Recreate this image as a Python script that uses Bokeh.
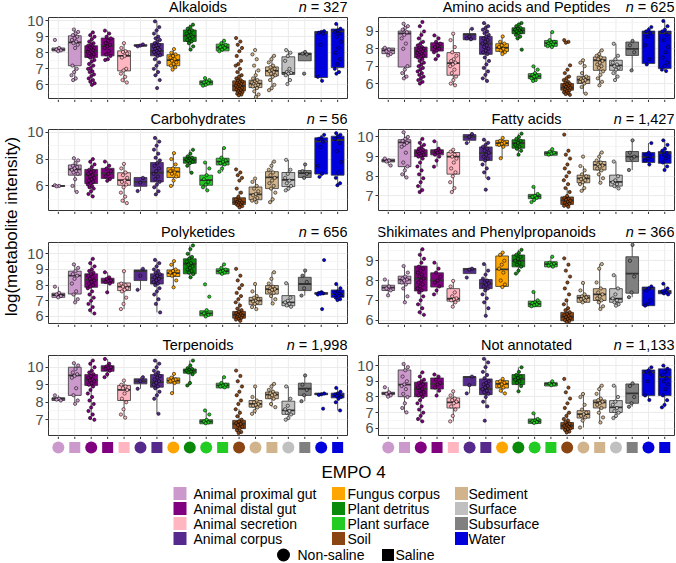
import math
from bokeh.plotting import figure
from bokeh.models import Range1d, FixedTicker, Label
from bokeh.layouts import row, column
from bokeh.embed import file_html
from bokeh.resources import INLINE

FONT = "Liberation Sans"

# ---------------- data ----------------
EMPO4 = ["Animal proximal gut", "Animal distal gut", "Animal secretion", "Animal corpus",
         "Fungus corpus", "Plant detritus", "Plant surface", "Soil",
         "Sediment", "Surface", "Subsurface", "Water"]

GROUP_EMPO = ["Animal proximal gut", "Animal proximal gut", "Animal distal gut", "Animal distal gut",
              "Animal secretion", "Animal corpus", "Animal corpus", "Fungus corpus", "Plant detritus",
              "Plant surface", "Plant surface", "Soil", "Sediment", "Sediment", "Surface",
              "Subsurface", "Water", "Water"]
GROUP_SALINITY = ["Non-saline", "Saline", "Non-saline", "Saline", "Saline", "Non-saline", "Saline",
                  "Non-saline", "Non-saline", "Non-saline", "Saline", "Non-saline", "Non-saline",
                  "Saline", "Non-saline", "Saline", "Non-saline", "Saline"]

TITLES = ["Alkaloids", "Amino acids and Peptides", "Carbohydrates", "Fatty acids",
          "Polyketides", "Shikimates and Phenylpropanoids", "Terpenoids", "Not annotated"]
N_COUNTS = ["327", "625", "56", "1,427", "656", "366", "1,998", "1,133"]

Y_TICKS = [[6, 7, 8, 9, 10], [6, 7, 8, 9], [6, 8, 10], [7, 8, 9, 10],
           [6, 7, 8, 9, 10], [6, 7, 8, 9], [7, 8, 9, 10], [6, 7, 8, 9, 10]]

# box stats per group: "lower-whisker q1 median q3 upper-whisker"
ALKALOIDS_BOX = ["8.08 8.12 8.2 8.3 8.35", "6.25 7.19 8.65 9.06 9.45", "6.0 7.71 8.12 8.44 9.27",
                 "7.54 7.81 8.44 8.92 9.38", "6.15 6.87 7.81 8.12 8.6", "8.4 8.42 8.45 8.5 8.52",
                 "6.6 7.81 8.12 8.58 9.96", "6.92 7.19 7.54 7.88 8.23", "8.17 8.71 9.06 9.42 9.75",
                 "5.94 6.0 6.15 6.25 6.42", "8.06 8.12 8.33 8.54 8.75", "5.35 5.62 5.94 6.25 6.9",
                 "5.3 5.83 6.08 6.29 6.9", "5.67 6.56 6.87 7.12 7.81", "6.04 6.65 6.75 7.75 8.17",
                 "7.5 7.5 7.92 7.98 8.05", "6.25 6.46 9.25 9.33 9.35", "6.7 7.08 9.33 9.48 9.8"]
ALKALOIDS_PTS = ["8.8 8.3 8.2 8.15 8.1",
                 "9.45 9.3 9.2 9.1 9.0 8.9 8.8 8.7 8.6 8.5 8.3 7.2 7.0 6.8 6.6 6.4 6.3",
                 "9.27 9.1 9.0 8.85 8.7 8.6 8.5 8.45 8.4 8.33 8.3 8.22 8.2 8.15 8.1 8.05 8.0 7.95 7.9 7.82 7.8 7.74 7.7 7.55 7.45 7.3 7.2 7.05 7.0 6.85 6.8 6.65 6.55 6.4 6.3 6.2 6.1 6.0",
                 "9.38 9.2 9.0 8.9 8.75 8.6 8.5 8.4 8.3 8.1 7.9 7.8 7.6 7.55",
                 "8.6 8.3 8.1 8.05 7.95 7.8 7.7 7.0 6.9 6.7 6.5 6.3 6.15",
                 "8.52 8.45 8.4",
                 "9.96 9.6 9.4 9.2 9.0 8.9 8.8 8.7 8.6 8.5 8.45 8.4 8.3 8.25 8.2 8.1 8.05 8.0 7.9 7.85 7.8 7.6 7.4 7.2 7.0 6.8 6.6 6.3 5.8",
                 "8.23 8.0 7.9 7.8 7.7 7.6 7.5 7.4 7.3 7.2 7.1 6.95",
                 "9.75 9.6 9.5 9.4 9.3 9.2 9.1 9.05 9.0 8.9 8.8 8.7 8.6 8.4 8.2",
                 "6.42 6.3 6.2 6.15 6.1 6.0 5.95",
                 "8.75 8.6 8.5 8.4 8.35 8.3 8.2 8.1",
                 "8.92 8.7 8.5 8.3 8.1 7.8 7.5 7.3 7.2 7.0 6.8 6.6 6.5 6.4 6.3 6.25 6.2 6.15 6.1 6.05 6.0 5.95 5.9 5.85 5.8 5.75 5.7 5.65 5.6 5.55 5.5 5.45 5.4 5.35",
                 "8.17 7.9 7.6 7.2 6.9 6.6 6.4 6.3 6.2 6.15 6.1 6.05 6.0 5.95 5.9 5.8 5.6 5.4 5.25",
                 "7.81 7.6 7.4 7.2 7.1 7.0 6.9 6.85 6.8 6.7 6.6 6.5 6.3 6.0 5.8 5.67",
                 "8.17 8.0 7.8 7.5 7.0 6.8 6.75 6.7 6.6 6.3 6.05",
                 "8.05 7.95 7.9 6.7",
                 "9.35 9.3 9.25 9.2 8.5 6.5 6.25",
                 "9.8 9.5 9.4 9.3 9.2 9.0 8.7 8.3 8.0 7.6 7.3 7.0 6.8 6.7"]

AMINO_BOX = ["7.62 7.72 7.91 8.04 8.06", "6.28 6.95 8.88 9.02 9.44", "6.0 7.49 7.87 8.1 9.0",
             "7.37 7.87 8.1 8.35 8.77", "5.9 6.48 7.18 7.78 8.87", "8.5 8.52 8.83 8.87 9.15",
             "6.15 7.68 8.3 8.71 9.48", "7.68 7.85 8.06 8.29 8.71", "8.5 8.87 9.06 9.21 9.48",
             "6.15 6.28 6.42 6.57 6.99", "8.1 8.14 8.33 8.48 8.96", "5.33 5.62 5.77 6.0 6.5",
             "5.42 6.0 6.23 6.42 7.34", "5.85 6.76 7.34 7.53 7.91", "6.19 6.76 7.05 7.34 8.29",
             "6.76 7.62 8.0 8.39 8.45", "7.1 7.15 8.9 9.02 9.25", "6.72 6.86 8.9 9.02 9.6"]
AMINO_PTS = ["8.06 7.95 7.85 7.7 7.62",
             "9.44 9.3 9.2 9.1 8.95 8.8 8.6 8.3 8.0 7.0 6.8 6.6 6.4 6.3",
             "9.54 9.3 9.0 8.8 8.6 8.4 8.3 8.2 8.1 8.05 8.0 7.95 7.9 7.85 7.8 7.75 7.7 7.65 7.6 7.55 7.5 7.4 7.3 7.2 7.1 7.0 6.9 6.8 6.7 6.6 6.5 6.4 6.3 6.2 6.1 6.0",
             "8.77 8.6 8.4 8.3 8.2 8.1 8.0 7.9 7.8 7.6 7.4",
             "8.87 8.5 8.1 7.8 7.6 7.4 7.3 7.2 7.1 7.0 6.8 6.6 6.4 6.2 6.0 5.9",
             "9.15 8.7 8.6 8.55",
             "9.48 9.3 9.2 9.1 9.0 8.9 8.8 8.7 8.6 8.5 8.4 8.3 8.2 8.1 8.0 7.9 7.8 7.7 7.5 7.3 7.1 6.9 6.7 6.5 6.3 6.15",
             "8.71 8.4 8.3 8.2 8.1 8.0 7.9 7.8 7.7",
             "9.48 9.4 9.3 9.2 9.15 9.1 9.05 9.0 8.95 8.9 8.8 8.7 8.6 7.95",
             "6.99 6.8 6.6 6.5 6.45 6.4 6.3 6.2 6.15",
             "8.96 8.5 8.4 8.35 8.3 8.25 8.2 8.15 8.1",
             "8.5 8.4 8.35 7.05 6.8 6.6 6.4 6.3 6.2 6.1 6.05 6.0 5.95 5.9 5.85 5.8 5.75 5.7 5.65 5.6 5.55 5.5 5.45 5.4 5.35",
             "7.34 7.2 7.0 6.6 6.4 6.3 6.25 6.2 6.15 6.1 6.0 5.8 5.42",
             "7.91 7.7 7.6 7.5 7.4 7.3 7.2 7.1 7.0 6.9 6.7 6.5 6.3 6.1 5.9",
             "8.29 7.6 7.4 7.2 7.1 7.0 6.9 6.8 6.6 6.4 6.2",
             "8.45 8.2 7.8 6.76",
             "9.25 9.1 9.0 8.9 8.7 8.2 7.4 7.1",
             "9.6 9.3 9.1 9.0 8.8 8.5 8.1 7.8 7.5 7.2 7.0 6.8 6.72"]

CARBO_BOX = ["5.95 5.97 6.0 6.02 6.05", "5.55 6.8 7.23 7.56 8.06", "5.22 6.18 6.8 7.23 8.0",
             "6.38 6.55 6.93 7.31 7.81", "4.72 6.05 6.43 6.98 7.64", "5.62 5.97 6.3 6.63 6.65",
             "5.37 6.3 6.98 7.74 9.57", "5.97 6.63 7.06 7.36 8.44", "6.98 7.69 7.94 8.14 8.69",
             "5.67 6.05 6.43 6.8 7.74", "7.06 7.56 7.81 8.06 8.82", "4.36 4.62 4.79 5.12 5.6",
             "4.79 4.97 5.37 5.92 6.55", "4.79 5.8 6.63 7.06 7.81", "5.67 5.95 6.45 7.0 7.94",
             "6.56 6.63 6.95 7.15 7.6", "6.68 6.88 9.32 9.58 9.8", "6.05 6.8 9.42 9.7 9.93"]
CARBO_PTS = ["6.05 6.0 5.97",
             "8.06 7.9 7.7 7.5 7.4 7.3 7.2 7.1 7.0 6.9 6.5 6.0 5.55",
             "8.0 7.8 7.6 7.4 7.2 7.1 7.0 6.9 6.8 6.7 6.6 6.5 6.4 6.3 6.2 6.1 6.0 5.9 5.8 5.6 5.4 5.22",
             "7.81 7.5 7.3 7.1 6.9 6.7 6.5 6.38",
             "7.64 7.3 7.0 6.8 6.6 6.4 6.3 6.1 5.9 5.5 5.2 4.9 4.72",
             "6.6 6.25 5.62",
             "9.57 9.3 9.0 8.7 8.4 8.1 7.9 7.7 7.5 7.3 7.1 6.9 6.7 6.5 6.3 6.1 5.9 5.6 5.37",
             "8.44 8.0 7.6 7.3 7.1 7.0 6.9 6.7 6.4 6.0",
             "8.69 8.4 8.2 8.1 8.0 7.95 7.9 7.85 7.8 7.7 7.5 6.98",
             "7.74 7.3 6.8 6.5 6.3 6.1 5.9 5.67",
             "8.82 8.1 7.9 7.8 7.7 7.6 7.3 7.06",
             "7.23 7.0 6.8 6.6 6.4 5.8 5.5 5.2 5.0 4.9 4.8 4.75 4.7 4.65 4.6 4.55 4.5 4.4",
             "6.55 6.3 6.0 5.8 5.6 5.4 5.3 5.1 5.0 4.9 4.79",
             "7.81 7.5 7.2 7.0 6.8 6.6 6.4 6.2 6.0 5.8 5.5 5.0 4.79",
             "7.94 7.2 6.9 6.6 6.4 6.2 6.0 5.8 5.67",
             "7.6 7.1 6.9 6.6",
             "9.8 9.6 9.5 9.3 8.9 7.5 6.9 6.68",
             "9.93 9.8 9.7 9.5 9.2 8.6 7.8 7.0 6.6 6.2 6.05"]

FATTY_BOX = ["8.55 8.73 8.8 8.87 8.9", "7.94 8.49 9.73 9.86 10.24", "7.2 9.0 9.18 9.35 9.9",
             "8.49 9.09 9.23 9.35 9.78", "7.2 8.11 9.0 9.21 9.35", "9.69 9.83 10.0 10.12 10.15",
             "7.9 8.8 9.18 9.49 9.86", "8.92 9.55 9.69 9.83 9.95", "9.09 9.43 9.69 9.86 10.17",
             "6.69 6.86 6.98 7.08 7.46", "9.05 9.07 9.18 9.25 9.38", "6.43 6.57 6.78 6.95 7.4",
             "7.26 7.67 7.89 8.06 8.52", "7.67 8.32 8.58 8.75 9.21", "7.38 7.5 7.72 8.06 8.75",
             "8.32 8.75 9.0 9.26 9.83", "8.58 8.7 8.97 9.21 9.69", "8.32 8.66 9.18 9.26 9.83"]
FATTY_PTS = ["8.9 8.8 8.75 8.55",
             "10.24 10.0 9.9 9.8 9.7 9.6 9.5 9.2 8.7 8.5 8.3 8.1 7.94",
             "9.9 9.7 9.6 9.5 9.4 9.35 9.3 9.25 9.2 9.15 9.1 9.05 9.0 8.9 8.7 8.5 8.3 8.1 7.9 7.7 7.5 7.3 7.2",
             "9.78 9.4 9.3 9.25 9.2 9.1 9.0 8.8 8.49",
             "9.35 9.25 9.1 9.0 8.9 8.7 8.4 8.2 8.0 7.7 7.4 7.2",
             "10.15 10.0 9.69",
             "9.86 9.7 9.6 9.5 9.4 9.3 9.2 9.1 9.0 8.9 8.8 8.6 8.4 8.2 7.9 7.32",
             "9.95 9.8 9.7 9.65 9.6 9.5 8.92",
             "10.17 10.0 9.9 9.8 9.7 9.6 9.5 9.4 9.3 9.1",
             "7.46 7.1 7.0 6.95 6.9 6.8 6.69",
             "9.38 9.25 9.2 9.15 9.1",
             "10.12 9.3 9.1 8.9 8.6 8.4 8.2 8.0 7.8 7.6 7.4 7.2 7.0 6.9 6.85 6.8 6.75 6.7 6.65 6.6 6.55 6.5 6.45",
             "9.0 8.52 8.3 8.1 8.0 7.9 7.85 7.8 7.7 7.6 7.4 7.26",
             "9.21 9.0 8.8 8.7 8.6 8.55 8.5 8.4 8.3 8.1 7.9 7.67",
             "8.75 8.0 7.8 7.7 7.6 7.5 7.38",
             "9.83 9.2 9.0 8.9 8.32",
             "9.69 9.2 9.1 9.0 8.9 8.8 8.6",
             "9.83 9.6 9.4 9.3 9.2 9.1 9.0 8.9 8.7 8.5 8.32"]

POLY_BOX = ["7.22 7.22 7.37 7.48 7.9", "6.9 7.43 8.61 8.89 9.32", "6.19 7.86 8.33 8.72 9.68",
            "7.54 8.12 8.29 8.44 8.82", "6.47 7.65 7.9 8.14 8.89", "7.7 8.29 8.89 8.97 9.04",
            "6.26 8.07 8.46 8.72 9.61", "7.86 8.55 8.76 8.97 9.53", "8.5 8.72 9.36 9.68 10.53",
            "6.0 6.04 6.19 6.36 6.4", "8.72 8.72 8.89 9.04 9.32", "5.72 5.89 6.11 6.32 6.9",
            "6.47 6.75 7.01 7.22 8.07", "6.83 7.43 7.75 7.97 8.82", "6.62 6.68 6.9 7.33 8.12",
            "7.33 7.65 8.07 8.5 8.93", "7.4 7.42 7.47 7.52 7.55", "7.05 7.22 7.43 7.69 8.07"]
POLY_PTS = ["7.9 7.5 7.4 7.3 7.22",
            "9.32 9.1 8.9 8.7 8.6 8.4 8.1 7.6 7.4 7.1 6.9",
            "9.68 9.4 9.2 9.0 8.9 8.8 8.7 8.6 8.5 8.4 8.3 8.2 8.1 8.0 7.9 7.8 7.6 7.4 7.2 7.0 6.8 6.6 6.4 6.19",
            "8.82 8.5 8.4 8.3 8.25 8.2 8.1 7.54",
            "8.89 8.1 8.0 7.9 7.8 7.7 7.6 7.2 6.8 6.47",
            "9.04 8.6 7.7",
            "9.61 9.4 9.2 9.0 8.9 8.8 8.7 8.6 8.5 8.4 8.3 8.2 8.1 8.0 7.8 7.6 7.4 7.1 6.8 6.26",
            "9.53 9.3 9.0 8.9 8.8 8.7 8.6 8.3 7.86",
            "10.53 10.3 10.0 9.8 9.7 9.5 9.4 9.3 9.2 9.1 9.0 8.9 8.8 8.7 8.5",
            "8.05 7.26 6.4 6.2 6.1 6.0",
            "9.32 9.1 9.0 8.9 8.85 8.8 8.72",
            "9.04 8.6 8.3 8.0 7.8 7.5 7.3 7.1 6.9 6.7 6.5 6.4 6.3 6.2 6.15 6.1 6.05 6.0 5.95 5.9 5.85 5.8 5.72",
            "8.07 7.6 7.3 7.2 7.1 7.0 6.95 6.9 6.8 6.6 6.47",
            "8.82 8.4 8.1 7.9 7.8 7.75 7.7 7.6 7.5 7.3 7.1 6.83",
            "8.12 7.2 7.0 6.9 6.8 6.7 6.62",
            "8.93 8.6 8.2 7.8 7.33",
            "9.6 7.55 7.5 7.47 7.45 7.4 6.47",
            "8.07 7.8 7.6 7.5 7.45 7.4 7.35 7.3 7.2 7.1 7.05"]

SHIKI_BOX = ["7.25 7.5 7.64 7.76 8.05", "6.9 7.84 8.05 8.22 8.73", "6.27 7.47 8.1 8.73 9.58",
             "7.3 7.67 8.01 8.39 8.9", "6.68 6.96 7.08 7.59 7.98", "8.35 8.35 8.56 8.61 8.61",
             "6.22 7.59 7.84 8.05 8.83", "7.67 7.7 8.56 9.24 9.41", "8.35 8.69 9.0 9.29 9.55",
             "6.68 6.68 6.82 6.96 7.42", "8.69 8.69 8.83 8.95 9.2", "5.88 5.97 6.17 6.39 7.0",
             "6.9 6.9 7.13 7.25 7.88", "6.56 6.99 7.3 7.59 8.83", "6.73 6.9 7.08 7.59 8.27",
             "7.16 7.36 8.35 9.2 9.8", "6.73 6.73 7.59 7.67 7.7", "7.33 7.33 7.42 7.5 7.84"]
SHIKI_PTS = ["8.05 7.7 7.6 7.5 7.25",
             "8.73 8.4 8.2 8.1 8.05 8.0 7.9 7.8 7.6 7.2 6.9",
             "9.58 9.3 9.1 8.9 8.7 8.6 8.5 8.4 8.3 8.2 8.1 8.0 7.9 7.8 7.7 7.6 7.5 7.4 7.2 7.0 6.8 6.6 6.4 6.27",
             "8.9 8.6 8.4 8.2 8.0 7.9 7.7 7.5 7.3",
             "7.98 7.7 7.4 7.2 7.1 7.05 7.0 6.9 6.68",
             "8.6 8.55 8.15",
             "8.83 8.5 8.3 8.1 8.0 7.9 7.85 7.8 7.7 7.6 7.5 7.3 7.1 6.9 6.6 6.22",
             "9.41 9.3 9.0 8.8 8.6 8.4 8.0 7.8 7.67",
             "9.55 9.4 9.3 9.2 9.1 9.0 8.9 8.8 8.7 8.5 8.35",
             "7.42 7.0 6.9 6.85 6.8 6.75 6.7",
             "9.2 8.9 8.85 8.8 8.75 8.7",
             "9.12 8.8 8.5 8.2 7.9 7.6 7.3 7.0 6.8 6.6 6.5 6.4 6.3 6.25 6.2 6.15 6.1 6.05 6.0 5.95 5.9",
             "7.88 7.5 7.3 7.2 7.15 7.1 7.05 7.0 6.9",
             "8.83 8.6 7.9 7.6 7.4 7.3 7.2 7.1 7.0 6.9 6.7 6.56",
             "8.27 7.6 7.3 7.1 7.0 6.9 6.8 6.73",
             "9.8 9.0 8.2 7.4 7.16",
             "7.7 7.6 7.5 7.0 6.8 6.73",
             "7.84 7.6 7.5 7.45 7.4 7.35 7.3"]

TERP_BOX = ["8.1 8.1 8.2 8.25 8.39", "7.91 8.39 9.53 10.0 10.23", "7.0 8.96 9.28 9.58 10.38",
            "9.43 9.77 9.96 10.09 10.47", "7.12 8.1 8.71 8.96 9.24", "8.77 9.05 9.2 9.34 9.43",
            "7.34 8.86 9.15 9.58 10.38", "8.52 9.09 9.24 9.39 9.62", "8.96 9.66 9.81 9.9 10.38",
            "6.77 6.77 6.9 7.0 7.53", "8.82 8.82 8.96 9.09 9.43", "6.24 6.49 6.77 6.96 7.6",
            "7.34 7.72 7.91 8.1 8.9", "7.72 8.2 8.44 8.58 9.05", "7.0 7.31 7.53 8.06 8.9",
            "8.06 8.39 8.77 9.09 9.53", "8.4 8.43 8.46 8.52 8.55", "7.53 8.25 8.39 8.52 8.82"]
TERP_PTS = ["8.39 8.2 8.15 8.1",
            "10.23 10.1 9.9 9.7 9.6 9.5 9.4 8.8 8.4 8.1 7.91",
            "10.38 10.2 10.0 9.8 9.7 9.6 9.5 9.4 9.3 9.25 9.2 9.1 9.0 8.9 8.7 8.5 8.3 8.1 7.9 7.7 7.5 7.3 7.1 7.0",
            "10.47 10.2 10.05 10.0 9.95 9.9 9.8 9.6 9.43",
            "9.24 9.0 8.9 8.8 8.7 8.5 8.2 8.0 7.6 7.3 7.12",
            "9.43 9.2 8.77",
            "10.38 10.2 10.0 9.8 9.7 9.6 9.5 9.4 9.3 9.2 9.1 9.0 8.9 8.8 8.6 8.4 8.2 7.34",
            "9.62 9.4 9.3 9.25 9.2 9.1 8.52",
            "10.38 10.1 9.95 9.9 9.85 9.8 9.75 9.7 9.6 9.1 8.96",
            "7.53 7.3 7.0 6.9 6.85 6.8",
            "9.43 9.1 9.0 8.95 8.9 8.85",
            "9.81 9.5 9.2 8.9 8.6 8.4 8.1 7.9 7.6 7.4 7.2 7.0 6.9 6.8 6.75 6.7 6.6 6.5 6.4 6.3 6.24",
            "8.9 8.3 8.1 8.0 7.9 7.85 7.8 7.7 7.5 7.34",
            "9.05 8.9 8.7 8.6 8.5 8.45 8.4 8.3 8.2 7.9 7.72",
            "8.9 8.2 7.8 7.6 7.5 7.4 7.3 7.1 7.0",
            "9.53 9.0 8.7 8.4 8.06",
            "8.5 8.45 8.42 7.63",
            "8.82 8.6 8.5 8.45 8.4 8.35 8.3 8.2 8.0 7.53"]

NOTANN_BOX = ["8.02 8.15 8.23 8.3 8.62", "7.02 8.02 8.79 9.72 10.1", "6.45 8.02 8.51 8.94 9.57",
              "8.09 8.51 8.83 9.21 9.43", "6.45 7.3 7.66 7.94 8.36", "8.23 8.72 9.26 9.3 9.32",
              "7.3 8.15 8.51 9.15 10.43", "8.23 8.57 8.83 9.04 9.15", "8.36 8.79 9.15 9.43 9.89",
              "6.32 6.32 6.45 6.6 6.96", "8.7 8.7 8.83 8.91 9.0", "5.74 5.96 6.17 6.38 7.0",
              "6.06 6.66 6.91 7.13 8.19", "6.38 7.3 7.66 7.81 8.72", "6.66 7.02 7.34 7.77 8.72",
              "7.38 7.6 8.23 8.83 8.87", "7.81 8.09 9.57 9.72 9.89", "7.34 8.09 9.26 9.79 10.0"]
NOTANN_PTS = ["8.62 8.3 8.2 8.1 8.02",
              "10.1 9.9 9.7 9.3 9.0 8.8 8.7 8.5 8.2 8.0 7.6 7.3 7.02",
              "9.57 9.3 9.1 9.0 8.9 8.8 8.7 8.6 8.5 8.4 8.3 8.2 8.1 8.0 7.8 7.6 7.4 7.2 7.0 6.8 6.6 6.45",
              "9.43 9.3 9.1 8.9 8.8 8.6 8.4 8.09",
              "8.36 8.1 7.9 7.8 7.7 7.6 7.4 7.2 6.8 6.45",
              "9.3 8.75 8.23",
              "10.43 10.2 9.9 9.6 9.4 9.2 9.0 8.9 8.8 8.7 8.6 8.5 8.4 8.3 8.2 8.0 7.7 7.4 6.49",
              "9.15 9.0 8.9 8.8 8.7 8.6 8.4 8.23",
              "9.89 9.6 9.4 9.3 9.2 9.1 9.0 8.9 8.7 8.36",
              "6.96 6.6 6.5 6.45 6.4 6.35",
              "9.0 8.85 8.8 8.75",
              "9.15 8.6 8.3 7.9 7.6 7.3 7.0 6.8 6.6 6.5 6.4 6.3 6.2 6.15 6.1 6.05 6.0 5.95 5.9 5.8 5.74",
              "8.19 8.0 7.5 7.2 7.0 6.9 6.8 6.7 6.5 6.06",
              "8.72 8.5 8.2 7.9 7.8 7.7 7.6 7.5 7.3 7.0 6.7 6.38",
              "8.72 8.0 7.7 7.5 7.3 7.1 7.0 6.8 6.66",
              "8.87 8.7 8.0 7.6 7.38",
              "9.89 9.7 9.6 9.5 9.0 8.1 7.81",
              "10.0 9.8 9.6 9.4 9.2 9.0 8.8 8.5 8.1 7.8 7.5 7.34"]

BOXES = [ALKALOIDS_BOX, AMINO_BOX, CARBO_BOX, FATTY_BOX, POLY_BOX, SHIKI_BOX, TERP_BOX, NOTANN_BOX]
POINTS = [ALKALOIDS_PTS, AMINO_PTS, CARBO_PTS, FATTY_PTS, POLY_PTS, SHIKI_PTS, TERP_PTS, NOTANN_PTS]

# ---------------- style / layout ----------------
COLORS = {"Animal proximal gut": "#CC99CC", "Animal distal gut": "#800080",
          "Animal secretion": "#FFB6C1", "Animal corpus": "#552A8C",
          "Fungus corpus": "#FFA500", "Plant detritus": "#0A8A0A",
          "Plant surface": "#22CC22", "Soil": "#8B4513",
          "Sediment": "#D2B48C", "Surface": "#C0C0C0",
          "Subsurface": "#808080", "Water": "#0000DD"}
MARKER = {"Non-saline": "circle", "Saline": "square"}

Y_LIMITS = [(5.15, 10.2), (5.14, 9.8), (4.17, 10.2), (6.26, 10.38),
            (5.55, 10.72), (5.83, 9.92), (6.1, 10.67), (5.55, 10.64)]
FRAME_H = [81, 81, 81, 80]
HEADER_H = [14, 27, 28, 28]   # visible header band (prev frame bottom+1 .. frame top-3)
FOOTER_H = 21
PAD = 9                        # panel canvas padding above/below the frame
GAP_TOP, GAP_BOTTOM = 3, 1     # distance from header end to frame top / frame bottom to next header
COL_GEOM = [(328, 23, 5), (324, 26, 2)]  # width, left border, right border
TXT = "#4D4D4D"
LINE = "#333333"
TITLE_SIZE = 14.5


def parse(s):
    return [float(v) for v in s.split()]


def text_width(s, size):
    w = {" ": .278, "=": .584, ",": .278, "A": .667, "S": .667, "P": .667, "C": .722, "F": .611,
         "T": .611, "N": .722, "i": .222, "l": .222, "j": .222, "t": .278, "f": .278, "r": .333,
         "m": .833, "s": .5, "c": .5, "k": .5, "y": .5, "z": .5, "x": .5, "v": .5}
    return sum(w.get(ch, .556) for ch in s) * size


def blank_fig(w, h, bl, br, xr, yr, margin=None):
    kw = {} if margin is None else {"margin": margin}
    p = figure(width=w, height=h, x_range=xr, y_range=yr, output_backend="svg",
               toolbar_location=None, tools="", min_border_left=bl, min_border_right=br,
               min_border_top=0, min_border_bottom=0, x_axis_location=None, y_axis_location=None,
               **kw)
    p.outline_line_color = None
    p.grid.visible = False
    p.background_fill_color = None
    p.border_fill_color = None
    return p


def add_ticks(p):
    ks = list(range(1, 19))
    p.segment(x0=ks, y0=[0] * 18, x1=ks, y1=[2.5] * 18, line_color=LINE, line_width=1)


def make_header(r, c):
    idx = 2 * r + c
    w, bl, br = COL_GEOM[c]
    h = HEADER_H[r]
    margin = None if r == 0 else (-(PAD - GAP_BOTTOM), 0, 0, 0)
    p = blank_fig(w, h, bl, br, Range1d(0.4, 18.6), Range1d(h, 0), margin)
    if r > 0:
        add_ticks(p)
    mid = h - 7.5
    title = TITLES[idx]
    rest = "= " + N_COUNTS[idx]
    n_w = text_width(rest, TITLE_SIZE) + text_width(" n", TITLE_SIZE)
    frame_w = w - bl - br
    t_w = text_width(title, TITLE_SIZE)
    common = dict(y=mid, text_baseline="middle", text_font=FONT,
                  text_font_size=f"{TITLE_SIZE}px", text_color="black")
    if frame_w / 2 + t_w / 2 > frame_w - n_w - 4:
        p.add_layout(Label(x=0.4, text=title, text_align="left", x_offset=-2, **common))
    else:
        p.add_layout(Label(x=9.5, text=title, text_align="center", **common))
    p.add_layout(Label(x=18.6, text=rest, text_align="right", **common))
    p.add_layout(Label(x=18.6, text="n", text_align="right", text_font_style="italic",
                       x_offset=-(text_width(rest, TITLE_SIZE) + 0.278 * TITLE_SIZE), **common))
    return p


def make_panel(idx):
    r, c = divmod(idx, 2)
    w, bl, br = COL_GEOM[c]
    lo, hi = Y_LIMITS[idx]
    p = figure(width=w, height=FRAME_H[r] + 2 * PAD,
               x_range=Range1d(0.4, 18.6), y_range=Range1d(lo, hi),
               output_backend="svg", toolbar_location=None, tools="",
               min_border_left=bl, min_border_right=br, min_border_top=PAD,
               min_border_bottom=PAD, x_axis_location=None,
               margin=(-(PAD - GAP_TOP), 0, 0, 0))
    p.outline_line_color = LINE
    p.outline_line_width = 1
    p.background_fill_color = "white"
    p.border_fill_color = None

    ticks = Y_TICKS[idx]
    step = ticks[1] - ticks[0]
    minor = [t - step / 2 for t in ticks] + [ticks[-1] + step / 2]
    ya = p.yaxis[0]
    ya.ticker = FixedTicker(ticks=ticks, minor_ticks=minor)
    ya.major_label_text_font_size = "14.5px"
    ya.major_label_text_font = FONT
    ya.major_label_text_color = TXT
    ya.major_label_standoff = 1
    ya.axis_line_color = None
    ya.major_tick_line_color = LINE
    ya.major_tick_out = 3
    ya.major_tick_in = 0
    ya.minor_tick_line_color = None

    p.xgrid.visible = False
    p.ygrid.grid_line_color = "#EBEBEB"
    p.ygrid.minor_grid_line_color = "#F2F2F2"
    p.ygrid.minor_grid_line_width = 0.7
    ks = list(range(1, 19))
    p.segment(x0=ks, y0=[lo] * 18, x1=ks, y1=[hi] * 18, line_color="#EBEBEB", line_width=1,
              level="underlay")

    xs, q1s, q3s, meds, los, his, cols = [], [], [], [], [], [], []
    px, py, pc = [], [], []
    for k in range(18):
        lo_w, q1, med, q3, hi_w = parse(BOXES[idx][k])
        col = COLORS[GROUP_EMPO[k]]
        x = k + 1
        xs.append(x); q1s.append(q1); q3s.append(q3); meds.append(med)
        los.append(lo_w); his.append(hi_w); cols.append(col)
        for i, v in enumerate(parse(POINTS[idx][k])):
            px.append(x + (((i * 0.618034 + k * 0.37) % 1.0) - 0.5) * 0.42)
            py.append(v)
            pc.append(col)

    bw = 0.78
    p.segment(x0=xs, y0=q3s, x1=xs, y1=his, line_color=LINE, line_width=0.8)
    p.segment(x0=xs, y0=q1s, x1=xs, y1=los, line_color=LINE, line_width=0.8)
    p.vbar(x=xs, width=bw, top=q3s, bottom=q1s, fill_color=cols, line_color=LINE, line_width=0.8)
    p.segment(x0=[x - bw / 2 for x in xs], y0=meds, x1=[x + bw / 2 for x in xs], y1=meds,
              line_color=LINE, line_width=1.8)
    p.scatter(x=px, y=py, size=3.3, fill_color=pc, line_color="black", line_width=0.55)
    return p


def make_footer(c):
    w, bl, br = COL_GEOM[c]
    p = blank_fig(w, FOOTER_H, bl, br, Range1d(0.4, 18.6), Range1d(FOOTER_H, 0),
                  (-(PAD - GAP_BOTTOM), 0, 0, 0))
    add_ticks(p)
    for k in range(18):
        mk = MARKER[GROUP_SALINITY[k]]
        p.scatter(x=[k + 1], y=[11], marker=mk, size=12 if mk == "circle" else 11,
                  fill_color=COLORS[GROUP_EMPO[k]], line_color=None)
    return p


cols = []
for c in range(2):
    items = []
    for r in range(4):
        items.append(make_header(r, c))
        items.append(make_panel(2 * r + c))
    items.append(make_footer(c))
    cols.append(column(*items))

total_h = sum(HEADER_H) + sum(FRAME_H) + 4 * (GAP_TOP + GAP_BOTTOM) + FOOTER_H

ylab = blank_fig(24, total_h, 0, 0, Range1d(0, 24), Range1d(total_h, 0))
ylab.add_layout(Label(x=11, y=226, text="log(metabolite intensity)", angle=math.pi / 2,
                      text_align="center", text_baseline="middle", text_font=FONT,
                      text_font_size="17px", text_color="black"))

leg_h = 563 - total_h
leg = blank_fig(676, leg_h, 0, 0, Range1d(0, 676), Range1d(leg_h, 0))
leg.add_layout(Label(x=353, y=15, text="EMPO 4", text_align="center", text_baseline="middle",
                     text_font=FONT, text_font_size="17px", text_color="black"))
col_sq = [179.5, 338, 461]
col_tx = [193, 347, 468]
for j, name in enumerate(EMPO4):
    cc, rr = divmod(j, 4)
    yy = 36 + rr * 15
    leg.scatter(x=[col_sq[cc]], y=[yy], marker="square", size=13, fill_color=COLORS[name], line_color=None)
    leg.add_layout(Label(x=col_tx[cc], y=yy, text=name, text_align="left", text_baseline="middle",
                         text_font=FONT, text_font_size="14px", text_color="black"))
leg.scatter(x=[283], y=[97.5], marker="circle", size=13, fill_color="black", line_color=None)
leg.add_layout(Label(x=297, y=97.5, text="Non-saline", text_align="left", text_baseline="middle",
                     text_font=FONT, text_font_size="14px", text_color="black"))
leg.scatter(x=[387.5], y=[97.5], marker="square", size=12, fill_color="black", line_color=None)
leg.add_layout(Label(x=395, y=97.5, text="Saline", text_align="left", text_baseline="middle",
                     text_font=FONT, text_font_size="14px", text_color="black"))

layout = column(row(ylab, cols[0], cols[1]), leg)

open("out.html", "w").write(file_html(layout, INLINE))
